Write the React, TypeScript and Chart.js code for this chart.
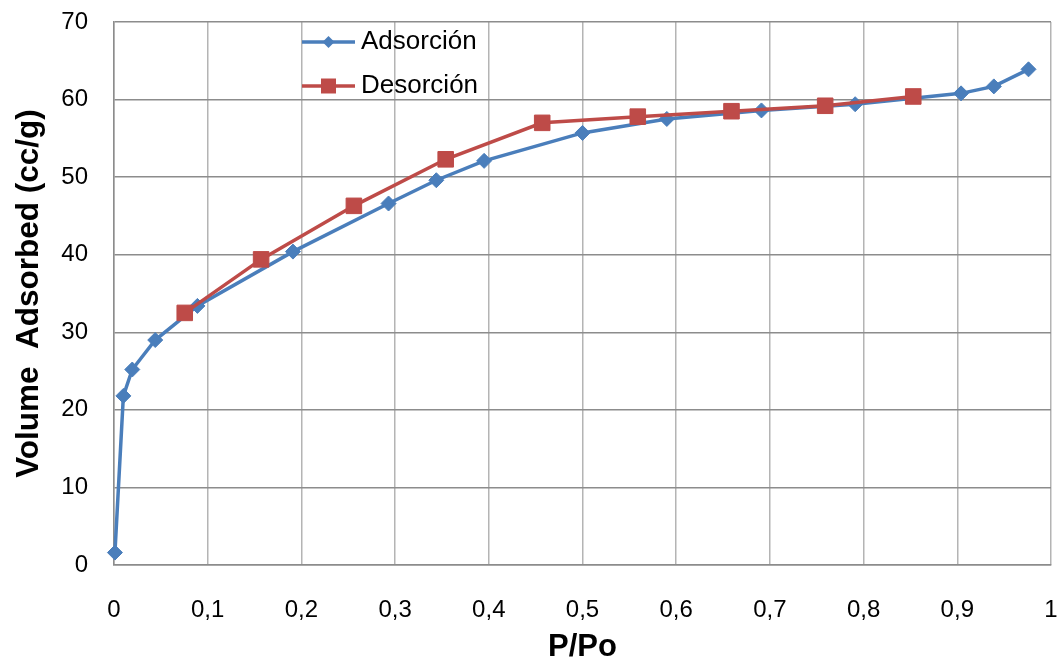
import React, { useEffect, useRef } from 'react';
import { Chart, registerables } from 'chart.js';

Chart.register(...registerables);

// ---- Data ----
const seriesNames = ['Adsorción', 'Desorción'];

const adsorptionX = [0.001, 0.01, 0.0195, 0.044, 0.089, 0.191, 0.293, 0.344, 0.395, 0.5, 0.59, 0.691, 0.791, 0.904, 0.939, 0.976];
const adsorptionY = [1.6, 21.8, 25.2, 29.0, 33.4, 40.4, 46.6, 49.6, 52.1, 55.7, 57.5, 58.6, 59.4, 60.8, 61.7, 63.9];

const desorptionX = [0.0755, 0.157, 0.256, 0.354, 0.457, 0.559, 0.659, 0.759, 0.853];
const desorptionY = [32.5, 39.4, 46.3, 52.3, 57.0, 57.8, 58.5, 59.2, 60.4];

const xTickLabels = ['0', '0,1', '0,2', '0,3', '0,4', '0,5', '0,6', '0,7', '0,8', '0,9', '1'];
const yTickLabels = ['0', '10', '20', '30', '40', '50', '60', '70'];

const xTitle = 'P/Po';
const yTitle = 'Volume  Adsorbed (cc/g)';

const FONT = "'Liberation Sans', Arial, sans-serif";
const BLUE = '#4A7EBB';
const RED = '#BE4B48';

const insideLegend = {
  id: 'insideLegend',
  afterDraw(chart: any) {
    const ctx = chart.ctx as CanvasRenderingContext2D;
    const rows = [42, 86];
    const x0 = 302;
    const x1 = 355;
    const mx = (x0 + x1) / 2;
    chart.data.datasets.forEach((ds: any, i: number) => {
      const y = rows[i];
      ctx.save();
      ctx.strokeStyle = ds.borderColor;
      ctx.lineWidth = 3.5;
      ctx.beginPath();
      ctx.moveTo(x0, y);
      ctx.lineTo(x1, y);
      ctx.stroke();
      ctx.fillStyle = ds.pointBackgroundColor;
      ctx.beginPath();
      if (ds.pointStyle === 'rectRot') {
        const r = 6;
        ctx.moveTo(mx, y - r);
        ctx.lineTo(mx + r, y);
        ctx.lineTo(mx, y + r);
        ctx.lineTo(mx - r, y);
        ctx.closePath();
      } else {
        const s = 7.5;
        ctx.rect(mx - s, y - s, 2 * s, 2 * s);
      }
      ctx.fill();
      ctx.fillStyle = '#000';
      ctx.font = `26px ${FONT}`;
      ctx.textBaseline = 'middle';
      ctx.textAlign = 'left';
      ctx.fillText(ds.label, 361, y);
      ctx.restore();
    });
  },
};

export default function App() {
  const ref = useRef<HTMLCanvasElement | null>(null);

  useEffect(() => {
    if (!ref.current) return;
    const toPts = (xs: number[], ys: number[]) => xs.map((x, i) => ({ x, y: ys[i] }));
    const chart = new Chart(ref.current, {
      type: 'scatter',
      data: {
        datasets: [
          {
            label: seriesNames[0],
            data: toPts(adsorptionX, adsorptionY),
            showLine: true,
            borderColor: BLUE,
            backgroundColor: BLUE,
            pointBackgroundColor: BLUE,
            pointBorderColor: BLUE,
            borderWidth: 3.5,
            pointStyle: 'rectRot',
            pointRadius: 7.5,
            pointBorderWidth: 1,
            clip: false as any,
            order: 2,
          },
          {
            label: seriesNames[1],
            data: toPts(desorptionX, desorptionY),
            showLine: true,
            borderColor: RED,
            backgroundColor: RED,
            pointBackgroundColor: RED,
            pointBorderColor: RED,
            borderWidth: 3.5,
            pointStyle: 'rect',
            pointRadius: 11,
            pointBorderWidth: 1,
            clip: false as any,
            order: 1,
          },
        ],
      },
      options: {
        responsive: false,
        animation: false,
        layout: { padding: { top: 22, right: 9, left: 0, bottom: 0 } },
        plugins: {
          legend: { display: false },
          tooltip: { enabled: false },
        },
        scales: {
          x: {
            type: 'linear',
            min: 0,
            max: 1,
            afterFit: (s: any) => {
              s.height = 97;
              s.paddingLeft = 0;
              s.paddingRight = 0;
            },
            afterBuildTicks: (s: any) => {
              s.ticks = xTickLabels.map((_, i) => ({ value: i / 10 }));
            },
            ticks: {
              stepSize: 0.1,
              padding: 31,
              color: '#000',
              font: { family: FONT, size: 24 },
              maxRotation: 0,
              autoSkip: false,
              callback: (_v: any, i: number) => xTickLabels[i],
            },
            grid: { color: '#b4b4b4', lineWidth: 1.5, drawTicks: false },
            border: { color: '#8c8c8c', width: 1.5 },
            title: {
              display: true,
              text: xTitle,
              color: '#000',
              font: { family: FONT, size: 31, weight: 'bold' },
              padding: { top: 0, bottom: -4 },
            },
          },
          y: {
            type: 'linear',
            min: 0,
            max: 70,
            afterFit: (s: any) => {
              s.width = 114;
              s.paddingTop = 0;
              s.paddingBottom = 0;
            },
            afterBuildTicks: (s: any) => {
              s.ticks = yTickLabels.map((_, i) => ({ value: i * 10 }));
            },
            ticks: {
              stepSize: 10,
              padding: 26,
              color: '#000',
              font: { family: FONT, size: 24 },
              callback: (_v: any, i: number) => yTickLabels[i],
            },
            grid: { color: '#8c8c8c', lineWidth: 1.5, drawTicks: false },
            border: { color: '#8c8c8c', width: 1.5 },
            title: {
              display: true,
              text: yTitle,
              color: '#000',
              font: { family: FONT, size: 31.5, weight: 'bold' },
              padding: { top: 10, bottom: 0 },
            },
          },
        },
      },
      plugins: [insideLegend],
    });
    return () => chart.destroy();
  }, []);

  return (
    <div style={{ position: 'fixed', left: 0, top: 0, width: 1063, height: 662, background: '#fff' }}>
      <canvas ref={ref} width={1063} height={662} style={{ width: 1063, height: 662, display: 'block' }} />
    </div>
  );
}
